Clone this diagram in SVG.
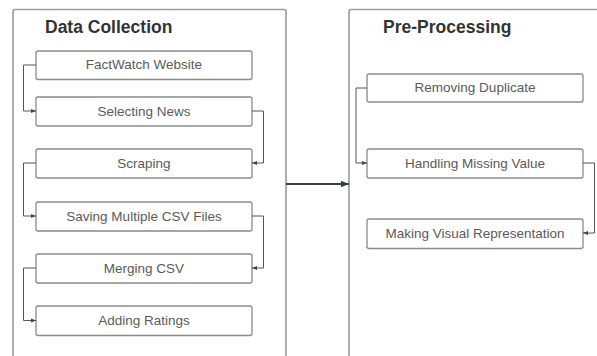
<svg xmlns="http://www.w3.org/2000/svg" width="597" height="356" viewBox="0 0 597 356">
<defs>
<marker id="ah" viewBox="0 0 10 10" refX="10" refY="5" markerWidth="5" markerHeight="5" orient="auto" markerUnits="userSpaceOnUse"><path d="M0,1 L10,5 L0,9 z" fill="#444"/></marker>
<marker id="ahb" viewBox="0 0 10 10" refX="10" refY="5" markerWidth="10" markerHeight="8" orient="auto" markerUnits="userSpaceOnUse"><path d="M0,1 L10,5 L0,9 z" fill="#3a3f47"/></marker>
</defs>
<style>
.cont{fill:#fff;stroke:#9a9a9a;stroke-width:1.6}
.box{fill:#fff;stroke:#8a8a8a;stroke-width:1.3}
.title{font-family:"Liberation Sans",Arial,sans-serif;font-weight:bold;font-size:17.5px;fill:#333}
.lbl{font-family:"Liberation Sans",Arial,sans-serif;font-size:13.5px;fill:#5a5a5a;text-anchor:middle}
.conn{fill:none;stroke:#555;stroke-width:1}
</style>
<rect width="597" height="356" fill="#fff"/>
<g id="data-collection">
<rect class="cont" x="13" y="9.5" width="273" height="360" rx="2"/>
<text class="title" x="45" y="33">Data Collection</text>
</g>
<g id="pre-processing">
<rect class="cont" x="349" y="9.5" width="260" height="360" rx="2"/>
<text class="title" x="383" y="33">Pre-Processing</text>
</g>
<g id="n1"><rect class="box" x="36" y="51" width="216" height="28.5" rx="2"/><text class="lbl" x="144" y="69">FactWatch Website</text></g>
<g id="n2"><rect class="box" x="36" y="97" width="216" height="29" rx="2"/><text class="lbl" x="144" y="115.5">Selecting News</text></g>
<g id="n3"><rect class="box" x="36" y="149" width="216" height="29" rx="2"/><text class="lbl" x="144" y="167.5">Scraping</text></g>
<g id="n4"><rect class="box" x="36" y="202" width="216" height="29" rx="2"/><text class="lbl" x="144" y="220.5">Saving Multiple CSV Files</text></g>
<g id="n5"><rect class="box" x="36" y="254" width="216" height="29" rx="2"/><text class="lbl" x="144" y="272.5">Merging CSV</text></g>
<g id="n6"><rect class="box" x="36" y="306" width="216" height="29.5" rx="2"/><text class="lbl" x="144" y="324.5">Adding Ratings</text></g>
<g id="n7"><rect class="box" x="367" y="74" width="216" height="28" rx="2"/><text class="lbl" x="475" y="92">Removing Duplicate</text></g>
<g id="n8"><rect class="box" x="367" y="149" width="216" height="29" rx="2"/><text class="lbl" x="475" y="167.5">Handling Missing Value</text></g>
<g id="n9"><rect class="box" x="367" y="219" width="216" height="29.5" rx="2"/><text class="lbl" x="475" y="238">Making Visual Representation</text></g>
<g id="connectors">
<path class="conn" marker-end="url(#ah)" d="M36,65 H23.5 V111 H36"/>
<path class="conn" marker-end="url(#ah)" d="M252,111 H263.5 V163 H252"/>
<path class="conn" marker-end="url(#ah)" d="M36,163 H23.5 V216 H36"/>
<path class="conn" marker-end="url(#ah)" d="M252,216 H263.5 V268 H252"/>
<path class="conn" marker-end="url(#ah)" d="M36,268 H23.5 V320.5 H36"/>
<path class="conn" marker-end="url(#ah)" d="M367,88 H356 V163 H367"/>
<path class="conn" marker-end="url(#ah)" d="M583,163 H594.5 V233 H583"/>
<path fill="none" stroke="#3a3f47" stroke-width="2" marker-end="url(#ahb)" d="M286,184 H349"/>
</g>
</svg>
